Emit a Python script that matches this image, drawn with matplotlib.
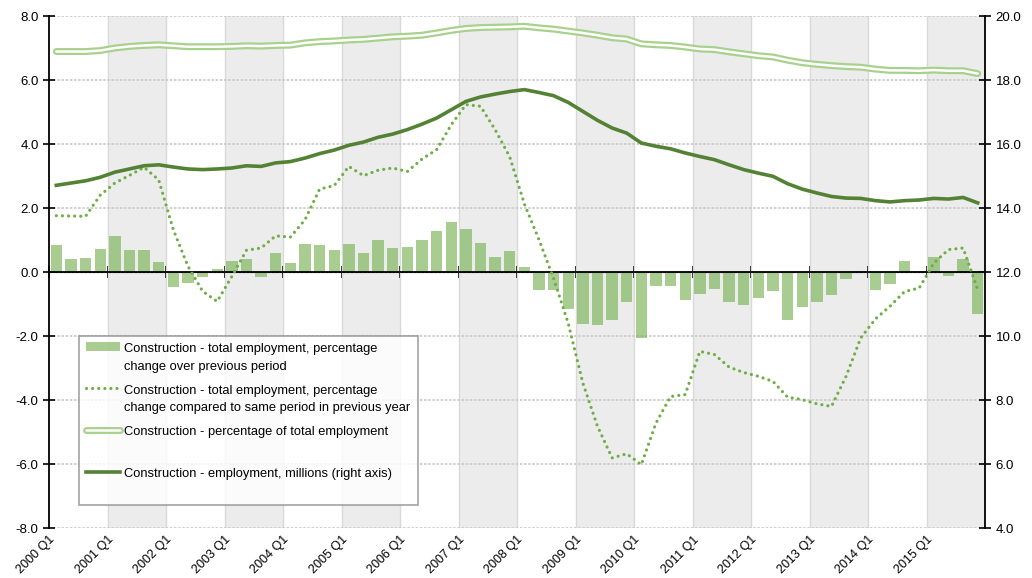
import numpy as np
import matplotlib.pyplot as plt
from matplotlib.lines import Line2D
from matplotlib.patches import Patch
from matplotlib.legend_handler import HandlerTuple

plt.rcParams['font.family'] = ['Liberation Sans', 'DejaVu Sans']

years = list(range(2000, 2016))
year_labels = [f"{y} Q1" for y in years]

# quarterly % change over previous period (bars, left axis)
qoq = [0.83, 0.41, 0.45, 0.72, 1.12, 0.70, 0.70, 0.32,
       -0.47, -0.35, -0.17, 0.10, 0.34, 0.41, -0.16, 0.60,
       0.28, 0.88, 0.84, 0.68, 0.88, 0.60, 1.00, 0.74,
       0.78, 1.00, 1.28, 1.56, 1.34, 0.92, 0.46, 0.67,
       0.17, -0.57, -0.55, -1.15, -1.64, -1.67, -1.51, -0.95,
       -2.05, -0.45, -0.44, -0.89, -0.68, -0.52, -0.95, -1.03,
       -0.80, -0.60, -1.51, -1.08, -0.95, -0.72, -0.22, 0.02,
       -0.55, -0.38, 0.33, 0.03, 0.47, -0.11, 0.41, -1.31]

# % change compared to same period previous year (dotted, left axis)
yoy = [1.76, 1.75, 1.74, 2.40, 2.78, 3.02, 3.27, 2.88,
       1.32, 0.18, -0.60, -0.92, -0.14, 0.68, 0.75, 1.13,
       1.09, 1.63, 2.59, 2.70, 3.30, 3.01, 3.18, 3.25,
       3.14, 3.53, 3.82, 4.60, 5.23, 5.18, 4.45, 3.60,
       2.13, 1.01, -0.20, -1.60, -3.47, -4.82, -5.81, -5.68,
       -6.02, -4.72, -3.89, -3.83, -2.48, -2.58, -2.97, -3.14,
       -3.26, -3.42, -3.91, -3.99, -4.12, -4.20, -3.26, -2.06,
       -1.47, -1.07, -0.61, -0.50, 0.28, 0.70, 0.75, -0.55]

# percentage of total employment (double line, left axis)
share = [6.89, 6.89, 6.89, 6.92, 7.00, 7.05, 7.08, 7.10,
         7.07, 7.04, 7.04, 7.04, 7.05, 7.07, 7.06, 7.08,
         7.09, 7.16, 7.20, 7.22, 7.25, 7.27, 7.31, 7.35,
         7.37, 7.40, 7.47, 7.55, 7.61, 7.64, 7.65, 7.66,
         7.68, 7.63, 7.59, 7.53, 7.47, 7.40, 7.32, 7.28,
         7.13, 7.10, 7.08, 7.03, 6.97, 6.95, 6.88, 6.82,
         6.76, 6.72, 6.62, 6.54, 6.49, 6.45, 6.42, 6.40,
         6.34, 6.30, 6.30, 6.29, 6.31, 6.29, 6.29, 6.20]

# employment, millions (solid line, right axis)
millions = [14.71, 14.78, 14.85, 14.96, 15.12, 15.22, 15.32, 15.35,
            15.28, 15.22, 15.20, 15.22, 15.25, 15.32, 15.30, 15.41,
            15.45, 15.56, 15.70, 15.81, 15.96, 16.06, 16.21, 16.31,
            16.45, 16.62, 16.81, 17.07, 17.33, 17.47, 17.56, 17.64,
            17.70, 17.61, 17.51, 17.30, 17.02, 16.74, 16.50, 16.34,
            16.03, 15.93, 15.85, 15.72, 15.61, 15.51, 15.35, 15.20,
            15.09, 14.99, 14.76, 14.59, 14.47, 14.36, 14.31, 14.30,
            14.23, 14.19, 14.23, 14.25, 14.30, 14.28, 14.33, 14.16]

x = np.arange(len(qoq))
bounds = np.arange(len(years) + 1) * 4 - 0.5

DOTS = (0, (0.01, 1.9))


class TopLineHandler(HandlerTuple):
    # keep the handle level with the first text line of a two-line label
    def create_artists(self, legend, orig_handle, xdescent, ydescent,
                       width, height, fontsize, trans):
        s = 0.85 * fontsize
        out = []
        for h in orig_handle:
            handler = legend.get_legend_handler(legend.get_legend_handler_map(), h)
            shift = s if isinstance(h, Patch) else 2 * s
            out.extend(handler.create_artists(legend, h, xdescent, ydescent - shift,
                                              width, height, fontsize, trans))
        return out


fig = plt.figure(figsize=(10.32, 5.78), dpi=100)
ax = fig.add_axes([0.0475, 0.0865, 0.907, 0.8858])
ax2 = ax.twinx()

# alternate year shading and vertical grid
for k in range(1, len(years), 2):
    ax.axvspan(bounds[k], bounds[k + 1], color='#ececec', zorder=0, lw=0)
for b in bounds[1:-1]:
    ax.axvline(b, color='#d9d9d9', lw=1, zorder=0.5)
ax.set_yticks(np.arange(-8, 8.1, 2))
ax.yaxis.grid(True, color='#c8c8c8', ls=(0, (1.5, 1)), lw=1.2)
ax.set_axisbelow(True)

ax.bar(x, qoq, width=0.78, color='#70ad47', alpha=0.6, zorder=2)
ax.axhline(0, color='black', lw=1.3, zorder=2.5)
ax.plot(x, yoy, color='#70ad47', ls=DOTS, lw=2.3, dash_capstyle='round', zorder=3)
ax.plot(x, share, color='#a9d18e', lw=5, solid_capstyle='round', zorder=3)
ax.plot(x, share, color='white', lw=1.8, solid_capstyle='round', zorder=3.1)
ax2.plot(x, millions, color='#548235', lw=2.6, zorder=3)

ax.set_xlim(-0.5, len(qoq) - 0.5)
ax.set_ylim(-8, 8)
ax2.set_ylim(4, 20)
ax2.set_yticks(np.arange(4, 20.1, 2))
ax.set_yticklabels([f"{v:.1f}" for v in np.arange(-8, 8.1, 2)])
ax2.set_yticklabels([f"{v:.1f}" for v in np.arange(4, 20.1, 2)])

ax.set_xticks(bounds[:-1])
ax.set_xticklabels(year_labels, rotation=45, ha='right', rotation_mode='anchor', fontsize=9)
ax.tick_params(axis='x', length=0, pad=4)
ax.tick_params(axis='y', direction='inout', length=8, width=1.2, labelsize=9.5, colors='black')
ax2.tick_params(axis='y', direction='inout', length=8, width=1.2, labelsize=9.5)

for a in (ax, ax2):
    a.spines['top'].set_visible(False)
    a.spines['bottom'].set_visible(False)
ax.spines['left'].set_linewidth(1.3)
ax2.spines['right'].set_linewidth(1.3)
ax.spines['right'].set_visible(False)
ax2.spines['left'].set_visible(False)

# year tick marks on the zero line
sec = ax.secondary_xaxis(0.5)
sec.set_xticks(bounds[:-1])
sec.set_xticklabels([])
sec.tick_params(direction='inout', length=9, width=1.3)
sec.spines['bottom'].set_visible(False)

handles = [
    (Patch(facecolor='#70ad47', alpha=0.6, edgecolor='none'),),
    (Line2D([], [], color='#70ad47', ls=DOTS, lw=2.3, dash_capstyle='round'),),
    (Line2D([], [], color='#a9d18e', lw=5, solid_capstyle='round'),
     Line2D([], [], color='white', lw=1.8, solid_capstyle='round')),
    (Line2D([], [], color='#548235', lw=2.6),),
]
labels = [
    "Construction - total employment, percentage\nchange over previous period",
    "Construction - total employment, percentage\nchange compared to same period in previous year",
    "Construction - percentage of total employment\n",
    "Construction - employment, millions (right axis)\n",
]
leg = ax2.legend(handles, labels, loc='upper left', bbox_to_anchor=(0.032, 0.375),
                 fontsize=9.3, frameon=True, fancybox=False, edgecolor='#8c8c8c',
                 handlelength=2.6, handletextpad=0.35, labelspacing=0.95,
                 borderpad=0.55, borderaxespad=0,
                 handler_map={tuple: TopLineHandler(ndivide=1)})
for t in leg.get_texts():
    t.set_linespacing(1.6)
leg.get_frame().set_linewidth(1.2)
leg.set_zorder(10)

fig.savefig('out.png', dpi=100)
